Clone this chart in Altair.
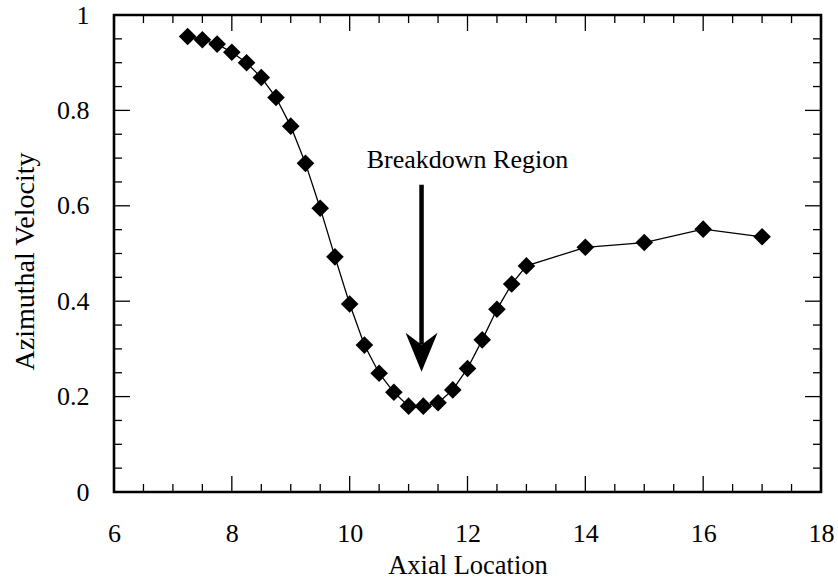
import altair as alt
import pandas as pd

# ---- data ----
axial = [7.25, 7.5, 7.75, 8.0, 8.25, 8.5, 8.75, 9.0, 9.25, 9.5, 9.75, 10.0, 10.25, 10.5,
         10.75, 11.0, 11.25, 11.5, 11.75, 12.0, 12.25, 12.5, 12.75, 13.0, 14.0, 15.0, 16.0, 17.0]
velocity = [0.955, 0.948, 0.939, 0.922, 0.900, 0.869, 0.827, 0.767, 0.689, 0.595, 0.493, 0.394,
            0.308, 0.249, 0.209, 0.180, 0.180, 0.187, 0.214, 0.259, 0.319, 0.383, 0.436, 0.474,
            0.513, 0.523, 0.551, 0.535]

x_tick_labels = [6, 8, 10, 12, 14, 16, 18]
y_tick_labels = [0, 0.2, 0.4, 0.6, 0.8, 1]
x_major_ticks = [8, 10, 12, 14, 16]
x_minor_ticks = [6.5, 7, 7.5, 8.5, 9, 9.5, 10.5, 11, 11.5, 12.5, 13, 13.5, 14.5, 15, 15.5, 16.5, 17, 17.5]
y_major_ticks = [0.2, 0.4, 0.6, 0.8]
y_minor_ticks = [0.05, 0.1, 0.15, 0.25, 0.3, 0.35, 0.45, 0.5, 0.55, 0.65, 0.7, 0.75, 0.85, 0.9, 0.95]

annot_text = ["Breakdown Region"]
annot_x = [10.29]
annot_y = [0.679]
arrow_x = [11.22]
arrow_top = [0.644]
arrow_base = [0.309]
arrow_head_y = [0.294]

W, H = 707, 477
FONT = "Liberation Serif"
MAJ, MIN = 16, 8

xs = alt.Scale(domain=[6, 18], nice=False, zero=False)
ys = alt.Scale(domain=[0, 1], nice=False, zero=False)

df = pd.DataFrame({"x": axial, "y": velocity})

x_axis = alt.Axis(values=x_tick_labels, format="d", labelPadding=28,
                  title="Axial Location", titleFontSize=26.5, titleY=81)
y_axis = alt.Axis(values=y_tick_labels, format="~g", labelPadding=25,
                  title="Azimuthal Velocity", titleFontSize=28, titleX=-81, titleY=246)

line = alt.Chart(df).mark_line(color="black", strokeWidth=1.3).encode(
    x=alt.X("x:Q", scale=xs, axis=x_axis),
    y=alt.Y("y:Q", scale=ys, axis=y_axis),
)
pts = alt.Chart(df).mark_point(shape="diamond", filled=True, color="black", size=310, opacity=1).encode(
    x=alt.X("x:Q", scale=xs),
    y=alt.Y("y:Q", scale=ys),
)


def xticks(vals, length):
    d = pd.DataFrame({"v": vals})
    bottom = alt.Chart(d).mark_rule(color="black", strokeWidth=1.3).encode(
        x=alt.X("v:Q", scale=xs), y=alt.value(H), y2=alt.value(H - length))
    top = alt.Chart(d).mark_rule(color="black", strokeWidth=1.3).encode(
        x=alt.X("v:Q", scale=xs), y=alt.value(0), y2=alt.value(length))
    return [bottom, top]


def yticks(vals, length):
    d = pd.DataFrame({"v": vals})
    left = alt.Chart(d).mark_rule(color="black", strokeWidth=1.3).encode(
        y=alt.Y("v:Q", scale=ys), x=alt.value(0), x2=alt.value(length))
    right = alt.Chart(d).mark_rule(color="black", strokeWidth=1.3).encode(
        y=alt.Y("v:Q", scale=ys), x=alt.value(W), x2=alt.value(W - length))
    return [left, right]


ticks = xticks(x_major_ticks, MAJ) + xticks(x_minor_ticks, MIN) + yticks(y_major_ticks, MAJ) + yticks(y_minor_ticks, MIN)

adf = pd.DataFrame({"t": annot_text, "x": annot_x, "y": annot_y})
label = alt.Chart(adf).mark_text(font=FONT, fontSize=26, align="left", baseline="alphabetic", color="black").encode(
    x=alt.X("x:Q", scale=xs), y=alt.Y("y:Q", scale=ys), text="t:N")

ardf = pd.DataFrame({"x": arrow_x, "y1": arrow_top, "y2": arrow_base, "yh": arrow_head_y})
shaft = alt.Chart(ardf).mark_rule(color="black", strokeWidth=4.5).encode(
    x=alt.X("x:Q", scale=xs), y=alt.Y("y1:Q", scale=ys), y2="y2:Q")
head = alt.Chart(ardf).mark_point(shape="M0,1L-0.8,-0.95L0,-0.35L0.8,-0.95Z", filled=True,
                                  color="black", size=1600, opacity=1).encode(
    x=alt.X("x:Q", scale=xs), y=alt.Y("yh:Q", scale=ys))

chart = alt.layer(line, *ticks, pts, label, shaft, head).properties(
    width=W, height=H,
    autosize=alt.AutoSizeParams(type="none"),
    padding={"left": 114, "top": 15, "right": 17, "bottom": 90},
    background="white",
).configure_view(stroke="black", strokeWidth=2.6).configure_axis(
    ticks=False, tickSize=0, domain=False, grid=False, labelFlush=False,
    labelFont=FONT, labelFontSize=26, labelColor="black",
    titleFont=FONT, titleFontWeight="normal", titleColor="black", titleBaseline="alphabetic",
)

chart.save("out.html", embed_options={"renderer": "svg", "actions": False})
